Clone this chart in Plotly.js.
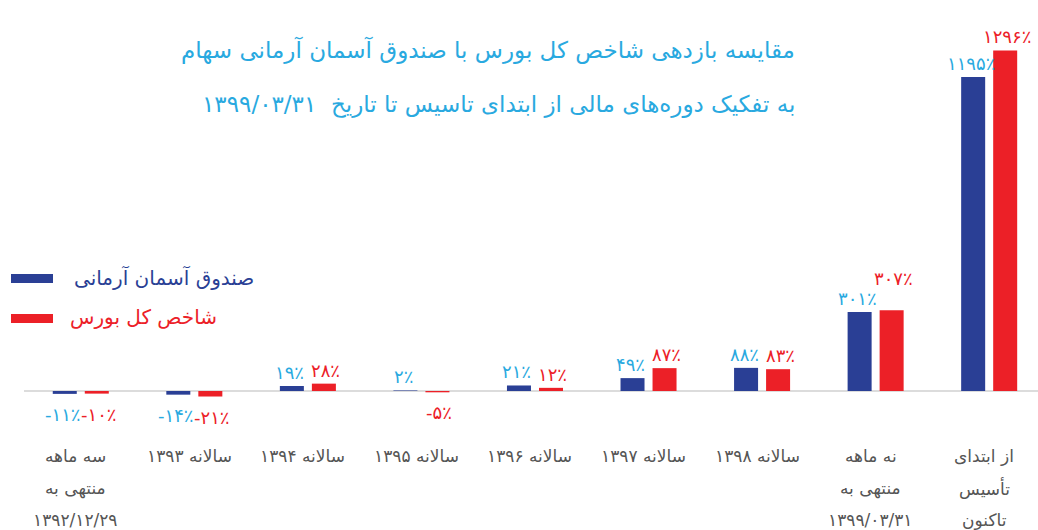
<!DOCTYPE html>
<html>
<head>
<meta charset="utf-8">
<script src="https://cdn.plot.ly/plotly-3.0.1.min.js"></script>
<style>html,body{margin:0;padding:0;background:#fff}#chart{width:1038px;height:530px}</style>
</head>
<body>
<div id="chart"></div>
<script>
const categories = [
  'سه ماهه<br>منتهی به<br>۱۳۹۲/۱۲/۲۹',
  'سالانه ۱۳۹۳',
  'سالانه ۱۳۹۴',
  'سالانه ۱۳۹۵',
  'سالانه ۱۳۹۶',
  'سالانه ۱۳۹۷',
  'سالانه ۱۳۹۸',
  'نه ماهه<br>منتهی به<br>۱۳۹۹/۰۳/۳۱',
  'از ابتدای<br>تأسیس<br>تاکنون'
];
const fundName = 'صندوق آسمان آرمانی';
const indexName = 'شاخص کل بورس';
const fundReturns = [-11, -14, 19, 2, 21, 49, 88, 301, 1195];
const indexReturns = [-10, -21, 28, -5, 12, 87, 83, 307, 1296];
const titleLines = [
  'مقایسه بازدهی شاخص کل بورس با صندوق آسمان آرمانی سهام',
  'به تفکیک دوره‌های مالی از ابتدای تاسیس تا تاریخ  ۱۳۹۹/۰۳/۳۱'
];

const FA = '۰۱۲۳۴۵۶۷۸۹';
function fa(v){ return String(v).replace(/[0-9]/g, d => FA[+d]); }
function pct(v){ return fa(v) + '٪'; }
function rtl(s){ return '\u202B' + s + '\u202C'; }

const BLUE = '#2a3f95', RED = '#ec2027', CYAN = '#29a9e0', GRAY = '#555555';
const FONT = 'DejaVu Sans, Noto Sans, sans-serif';
const xs = categories.map((c, i) => i);

const L = 24, W = 1014, PT = 10, PB = 440, PH = PB - PT;
const YR = [-186.5, 1450];
const PXU = PH / (YR[1] - YR[0]);
const px = x => (x - L) / W;
const py = y => (PB - y) / PH;

const traces = [
  {type:'bar', x: xs, y: fundReturns, name: fundName, marker:{color: BLUE}, hoverinfo:'none'},
  {type:'bar', x: xs, y: indexReturns, name: indexName, marker:{color: RED}, hoverinfo:'none'}
];

const annotations = [];
titleLines.forEach((t, k) => {
  annotations.push({xref:'paper', yref:'paper', x: px(797), y: py(k === 0 ? 50 : 104),
    xanchor:'right', yanchor:'middle', text: rtl(t), showarrow:false,
    font:{family: FONT, size: 23, color: CYAN}});
});
categories.forEach((c, i) => {
  c.split('<br>').forEach((line, k) => {
    annotations.push({xref:'x', yref:'paper', x: i, y: 0, yanchor:'middle', xanchor:'center',
      yshift: -(456 + 32 * k - PB), xshift: -5, text: rtl(line), showarrow:false,
      font:{family: FONT, size: 17, color: GRAY}});
  });
});
// value labels
const LBL = 18;
xs.forEach(i => {
  const b = fundReturns[i], r = indexReturns[i];
  const bt = pct(b), rt = pct(r);
  annotations.push({xref:'x', yref:'y', x: i, y: b, xshift: -18, yshift: b >= 0 ? 1 : -8,
    xanchor:'center', yanchor: b >= 0 ? 'bottom' : 'top', text: bt, showarrow:false,
    font:{family: FONT, size: LBL, color: CYAN}});
  let lift = 0;
  const estW = s => s.length * 10;
  if (b >= 0 && r >= 0 && Math.abs(r - b) * PXU < 14 && (estW(bt) + estW(rt)) / 2 > 36) lift = 18;
  annotations.push({xref:'x', yref:'y', x: i, y: r, xshift: 18, yshift: r >= 0 ? 1 + lift : -8,
    xanchor:'center', yanchor: r >= 0 ? 'bottom' : 'top', text: rt, showarrow:false,
    font:{family: FONT, size: LBL, color: RED}});
});
annotations.push({xref:'paper', yref:'paper', x: px(256), y: py(277), xanchor:'right', yanchor:'middle',
  text: rtl(fundName), showarrow:false, font:{family: FONT, size: 20, color: BLUE}});
annotations.push({xref:'paper', yref:'paper', x: px(219), y: py(317), xanchor:'right', yanchor:'middle',
  text: rtl(indexName), showarrow:false, font:{family: FONT, size: 20, color: RED}});

const shapes = [
  {type:'rect', xref:'paper', yref:'paper', x0: px(11), x1: px(53), y0: py(283), y1: py(274), fillcolor: BLUE, line:{width:0}},
  {type:'rect', xref:'paper', yref:'paper', x0: px(11), x1: px(53), y0: py(323), y1: py(314), fillcolor: RED, line:{width:0}}
];

const layout = {
  width: 1038, height: 530,
  margin: {l: L, r: 0, t: PT, b: 530 - PB},
  paper_bgcolor:'#fff', plot_bgcolor:'#fff',
  showlegend: false,
  barmode:'group', bargap: 0.436, bargroupgap: 0.25,
  font:{family: FONT},
  xaxis:{range:[-0.5, 8.43], showgrid:false, zeroline:false, showticklabels:false, ticks:'', fixedrange:true},
  yaxis:{range: YR, showgrid:false, zeroline:true, zerolinecolor:'#dcdcdc', zerolinewidth:2,
         showticklabels:false, ticks:'', fixedrange:true},
  annotations, shapes
};

Plotly.newPlot('chart', traces, layout, {displayModeBar:false, staticPlot:true});
</script>
</body>
</html>
